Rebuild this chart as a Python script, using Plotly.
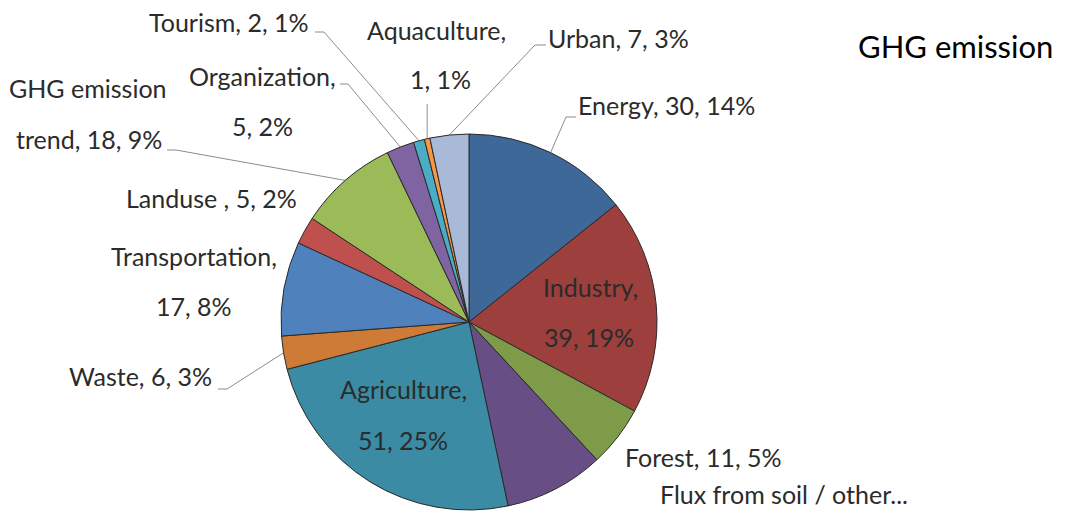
import math
import plotly.graph_objects as go

# ---- data ----
categories = ["Energy", "Industry", "Forest", "Flux from soil / other...", "Agriculture",
              "Waste", "Transportation", "Landuse ", "GHG emission trend", "Organization",
              "Tourism", "Aquaculture", "Urban"]
values = [30, 39, 11, 18, 51, 6, 17, 5, 18, 5, 2, 1, 7]
percent_labels = ["14%", "19%", "5%", "9%", "25%", "3%", "8%", "2%", "9%", "2%", "1%", "1%", "3%"]
colors = ["#3E6898", "#9C3F3D", "#7E9B49", "#674F86", "#3A8BA3", "#CF7B38", "#4F81BD",
          "#C0504D", "#9BBB59", "#8064A2", "#4BACC6", "#F79646", "#A9B9D8"]
title_text = "GHG emission"

# ---- layout geometry (pixels) ----
W, H = 1065, 513
CX, CY, R = 469, 322, 188
FONT = "Lato"
FS = 25
TXT = "#2b2b2b"
LINE = "#8C8C8C"

fig = go.Figure()
fig.add_trace(go.Pie(
    labels=categories, values=values, sort=False, direction="clockwise", rotation=0,
    marker=dict(colors=colors, line=dict(color="#2a2a2a", width=1)),
    textinfo="none", hoverinfo="label+value+percent", showlegend=False,
    domain=dict(x=[(CX - R) / W, (CX + R) / W], y=[(H - CY - R) / H, (H - CY + R) / H]),
))

# mid-angle edge points of each slice, from the data
total = sum(values)
edge = []
cum = 0
for v in values:
    mid = (cum + v / 2) / total * 2 * math.pi
    edge.append((CX + R * math.sin(mid), CY - R * math.cos(mid)))
    cum += v
idx = {c: i for i, c in enumerate(categories)}

def lab(i):
    return categories[i].strip(), values[i], percent_labels[i]

def one(i, x, y, xa):
    n, v, p = lab(i)
    return [(f"{categories[i]}, {v}, {p}", x, y, xa)]

annots = []
annots += one(idx["Tourism"], 311, 22, "right")
n, v, p = lab(idx["Aquaculture"])
annots += [(f"{n},", 436, 30, "center"), (f"{v}, {p}", 440, 79, "center")]
annots += one(idx["Urban"], 546, 38, "left")
annots += one(idx["Energy"], 576, 105, "left")
n, v, p = lab(idx["Organization"])
annots += [(f"{n},", 262, 76, "center"), (f"{v}, {p}", 262, 126, "center")]
n, v, p = lab(idx["GHG emission trend"])
annots += [("GHG emission", 88, 88, "center"), (f"trend, {v}, {p}", 89, 139, "center")]
annots += one(idx["Landuse "], 299, 198, "right")
n, v, p = lab(idx["Transportation"])
annots += [(f"{n},", 194, 256, "center"), (f"{v}, {p}", 194, 306, "center")]
n, v, p = lab(idx["Industry"])
annots += [(f"{n},", 590, 287, "center"), (f"{v}, {p}", 589, 337, "center")]
annots += one(idx["Waste"], 214, 376, "right")
n, v, p = lab(idx["Agriculture"])
annots += [(f"{n},", 403, 389, "center"), (f"{v}, {p}", 403, 440, "center")]
annots += one(idx["Forest"], 623, 457, "left")
annots.append((categories[idx["Flux from soil / other..."]], 658, 494, "left"))

for t, x, y, xa in annots:
    fig.add_annotation(x=x, y=y, xref="x", yref="y", text=t, showarrow=False,
                       xanchor=xa, yanchor="middle",
                       font=dict(family=FONT, size=FS, color=TXT))

fig.add_annotation(x=1055, y=46, xref="x", yref="y", text=title_text, showarrow=False,
                   xanchor="right", yanchor="middle",
                   font=dict(family=FONT, size=31, color="#000000"))

# leader lines: label-side points + slice edge point computed from data
leaders = {
    "Tourism": [(315, 32), (324, 32)],
    "Aquaculture": [(427, 104)],
    "Urban": [(546, 45), (535, 45)],
    "Energy": [(576, 117), (566, 117)],
    "Organization": [(340, 84), (348, 84)],
    "GHG emission trend": [(167, 150), (176, 150)],
    "Waste": [(218, 389), (227, 389)],
}
for name, pts in leaders.items():
    ex, ey = edge[idx[name]]
    if name == "Aquaculture":
        pts = [(ex, pts[0][1])]
    xs = [p[0] for p in pts] + [ex]
    ys = [p[1] for p in pts] + [ey]
    fig.add_trace(go.Scatter(x=xs, y=ys, mode="lines", line=dict(color=LINE, width=1),
                             hoverinfo="skip", showlegend=False))

fig.update_layout(
    width=W, height=H, margin=dict(l=0, r=0, t=0, b=0),
    paper_bgcolor="white", plot_bgcolor="rgba(0,0,0,0)",
    xaxis=dict(range=[0, W], visible=False, fixedrange=True),
    yaxis=dict(range=[H, 0], visible=False, fixedrange=True),
    showlegend=False,
)
fig.write_html("out.html", config={"displayModeBar": False},
               post_script="document.body.style.margin='0';document.body.style.overflow='hidden';")
